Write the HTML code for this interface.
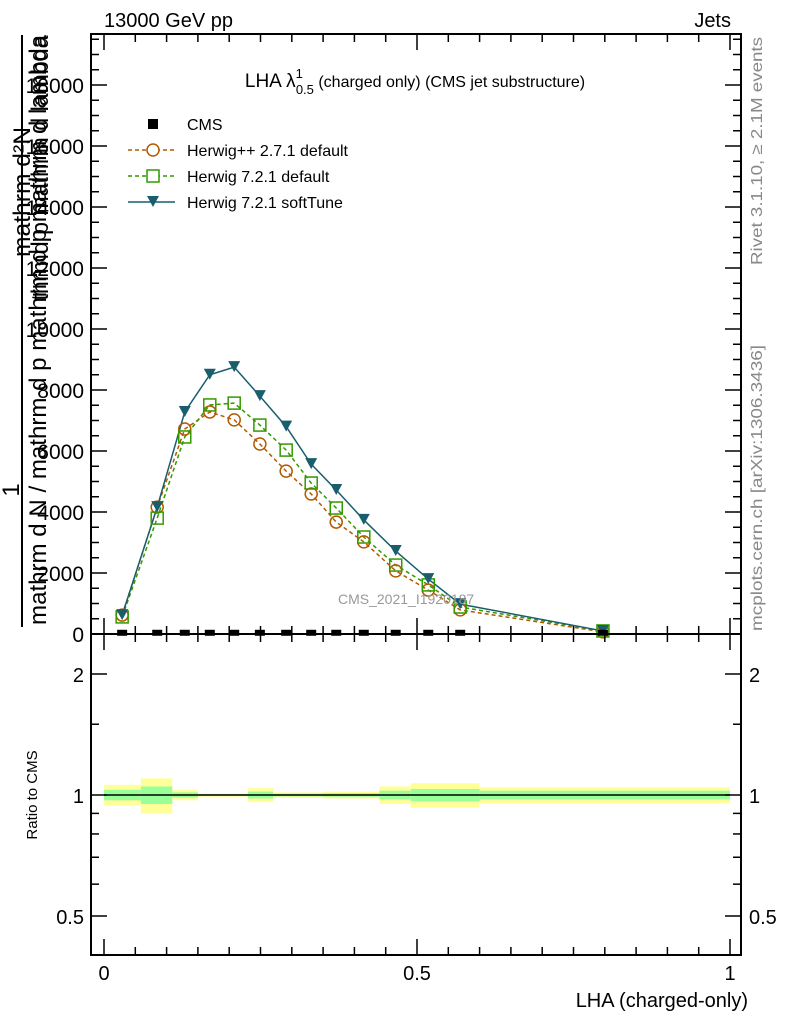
<!DOCTYPE html>
<html><head><meta charset="utf-8"><style>
body{margin:0;background:#fff}
svg{display:block;font-family:"Liberation Sans",sans-serif}
</style></head><body>
<svg id="c" width="786" height="1024" viewBox="0 0 786 1024" xmlns="http://www.w3.org/2000/svg">
<text x="104" y="27" font-size="20">13000 GeV pp</text>
<text x="731" y="27" font-size="20" text-anchor="end">Jets</text>
<text transform="translate(762,151) rotate(-90)" font-size="16" fill="#888" text-anchor="middle" textLength="228" lengthAdjust="spacingAndGlyphs">Rivet 3.1.10, ≥ 2.1M events</text>
<text transform="translate(762,488) rotate(-90)" font-size="16" fill="#888" text-anchor="middle" textLength="286" lengthAdjust="spacingAndGlyphs">mcplots.cern.ch [arXiv:1306.3436]</text>
<text transform="translate(30,192) rotate(-90)" font-size="24" text-anchor="middle" textLength="130" lengthAdjust="spacingAndGlyphs">mathrm d²N</text>
<line x1="22" y1="35" x2="22" y2="627" stroke="#000" stroke-width="2"/>
<text transform="translate(19,490) rotate(-90)" font-size="24" text-anchor="middle">1</text>
<text transform="translate(46,330) rotate(-90)" font-size="24" text-anchor="middle" textLength="590" lengthAdjust="spacingAndGlyphs">mathrm d N / mathrm d p  mathrm d p  mathrm d lambda</text>
<text transform="translate(48,168) rotate(-90)" font-size="24" text-anchor="middle" textLength="265" lengthAdjust="spacingAndGlyphs">thrmd p  mathrm d lambda</text>
<text x="415" y="87" font-size="19" text-anchor="middle">LHA λ<tspan font-size="13" dy="-9">1</tspan><tspan font-size="13" dx="-7" dy="16">0.5</tspan><tspan font-size="16" dy="-7"> (charged only) (CMS jet substructure)</tspan></text>
<g id="legend"></g>
<g id="main"></g>
<g id="ratio"></g>
<text x="338" y="604" font-size="14" fill="#999">CMS_2021_I1920187</text>
<text x="748" y="1007" font-size="20" text-anchor="end">LHA (charged-only)</text>
<text transform="translate(37,795) rotate(-90)" font-size="15" text-anchor="middle">Ratio to CMS</text>
</svg>
<script>
const xs=[0.029,0.085,0.129,0.169,0.208,0.249,0.291,0.331,0.371,0.415,0.466,0.518,0.569,0.797];
const cms=[40,40,40,40,40,40,40,40,40,40,40,40,40,40];
const hpp=[620,4160,6720,7280,7020,6230,5340,4590,3670,3020,2070,1440,790,70];
const h7def=[560,3800,6460,7510,7570,6850,6030,4950,4130,3180,2260,1610,885,100];
const h7soft=[620,4160,7280,8500,8750,7800,6800,5570,4720,3740,2720,1800,980,100];
const yTicks=[0,2000,4000,6000,8000,10000,12000,14000,16000,18000];
const binEdges=[0,0.059,0.109,0.15,0.23,0.27,0.35,0.44,0.49,0.6,1.0];
const bandYellow=[0.06,0.10,0.03,0.01,0.04,0.015,0.02,0.05,0.07,0.045];
const bandGreen=[0.03,0.05,0.015,0.005,0.02,0.008,0.01,0.025,0.035,0.025];
const rTicks=[0.5,1,2];
const xTickLabels=[0,0.5,1];

const NS="http://www.w3.org/2000/svg";
const L=91,R=741,T=34,MB=634,RB=955;
const X=v=>104+626*v;
const Y=v=>634-v*61/2000;
const RY=r=>795-121*Math.log2(r);
function mk(tag,attrs,parent){const e=document.createElementNS(NS,tag);for(const k in attrs)e.setAttribute(k,attrs[k]);parent.appendChild(e);return e;}
const main=document.getElementById('main'),ratio=document.getElementById('ratio'),leg=document.getElementById('legend');

for(let i=0;i<bandYellow.length;i++){
  const x1=X(binEdges[i]),x2=X(binEdges[i+1]);
  const y=mk('rect',{x:x1,y:RY(1+bandYellow[i]),width:x2-x1,height:RY(1-bandYellow[i])-RY(1+bandYellow[i]),fill:'#ffff99'},ratio);
  
  
  const g=mk('rect',{x:x1,y:RY(1+bandGreen[i]),width:x2-x1,height:RY(1-bandGreen[i])-RY(1+bandGreen[i]),fill:'#99ff99'},ratio);
  
  
}
const rl=mk('line',{x1:X(0),x2:X(1),y1:RY(1),y2:RY(1),stroke:'#000','stroke-width':1.5},ratio);



const f1=mk('rect',{x:L,y:T,width:R-L,height:MB-T,fill:'none',stroke:'#000','stroke-width':2},main);


const f2=mk('rect',{x:L,y:MB,width:R-L,height:RB-MB,fill:'none',stroke:'#000','stroke-width':2},ratio);



for(let v=0;v<=19500;v+=500){
  const major=v%2000===0, len=major?16:8, y=Y(v);
  if(y<T)continue;
  const a=mk('line',{x1:L,x2:L+len,y1:y,y2:y,stroke:'#000','stroke-width':1.5},main);
  
  
  const b=mk('line',{x1:R-len,x2:R,y1:y,y2:y,stroke:'#000','stroke-width':1.5},main);
  
  
}
yTicks.forEach(v=>{
  const t=mk('text',{x:84,y:Y(v)+8,'font-size':21,'text-anchor':'end'},main);
  t.textContent=v;
  
  
});
for(let i=0;i<=20;i++){
  const v=i*0.05,major=i%10===0,len=major?16:8;
  [[MB,-1,main],[T,1,main],[RB,-1,ratio],[MB,1,ratio]].forEach(([yb,d,p])=>{
    const l=mk('line',{x1:X(v),x2:X(v),y1:yb,y2:yb+d*len,stroke:'#000','stroke-width':1.5},p);
    
    
  });
}
xTickLabels.forEach(v=>{
  const t=mk('text',{x:X(v),y:980,'font-size':20,'text-anchor':'middle'},ratio);
  t.textContent=v;
  
  
});
[0.4,0.5,0.6,0.7,0.8,0.9,1,1.5,2].forEach(r=>{
  const major=rTicks.includes(r),len=major?16:8;
  const a=mk('line',{x1:L,x2:L+len,y1:RY(r),y2:RY(r),stroke:'#000','stroke-width':1.5},ratio);
  
  
  const b=mk('line',{x1:R-len,x2:R,y1:RY(r),y2:RY(r),stroke:'#000','stroke-width':1.5},ratio);
  
  
});
rTicks.forEach(r=>{
  [[84,'end'],[749,'start']].forEach(([x,a])=>{
    const t=mk('text',{x:x,y:RY(r)+8,'font-size':20,'text-anchor':a},ratio);
    t.textContent=r;
    
    
  });
});

function line(vals,color,dash,name){
  const pts=xs.map((x,i)=>X(x)+','+Y(vals[i])).join(' ');
  const p=mk('polyline',{points:pts,fill:'none',stroke:color,'stroke-width':1.5,'stroke-dasharray':dash},main);
  
  
}
line(hpp,'#b35900','4,3','herwigpp-default');
line(h7def,'#339900','4,3','herwig7-default');
line(h7soft,'#1a5e6e','','herwig7-softtune');
xs.forEach((x,i)=>{
  const c=mk('circle',{cx:X(x),cy:Y(hpp[i]),r:6,fill:'none',stroke:'#b35900','stroke-width':1.5},main);
  
  
  const s=mk('rect',{x:X(x)-6,y:Y(h7def[i])-6,width:12,height:12,fill:'none',stroke:'#339900','stroke-width':1.5},main);
  
  
  const cx=X(x),cy=Y(h7soft[i]);
  const t=mk('polygon',{points:`${cx-6},${cy-6} ${cx+6},${cy-6} ${cx},${cy+5}`,fill:'#1a5e6e'},main);
  
  
  const d=mk('rect',{x:X(x)-5,y:Y(cms[i])-3,width:10,height:6,fill:'#000'},main);
  
  
});

const entries=[['CMS','cms'],['Herwig++ 2.7.1 default','hpp'],['Herwig 7.2.1 default','h7d'],['Herwig 7.2.1 softTune','h7s']];
entries.forEach(([label,k],i)=>{
  const y=124+i*26,cx=153;
  if(k==='cms'){const m=mk('rect',{x:cx-5,y:y-5,width:10,height:10,fill:'#000'},leg);}
  if(k==='hpp'){mk('line',{x1:128,x2:175,y1:y,y2:y,stroke:'#b35900','stroke-width':1.5,'stroke-dasharray':'4,3'},leg);mk('circle',{cx:cx,cy:y,r:6,fill:'#fff',stroke:'#b35900','stroke-width':1.5},leg);}
  if(k==='h7d'){mk('line',{x1:128,x2:175,y1:y,y2:y,stroke:'#339900','stroke-width':1.5,'stroke-dasharray':'4,3'},leg);mk('rect',{x:cx-6,y:y-6,width:12,height:12,fill:'#fff',stroke:'#339900','stroke-width':1.5},leg);}
  if(k==='h7s'){mk('line',{x1:128,x2:175,y1:y,y2:y,stroke:'#1a5e6e','stroke-width':1.5},leg);mk('polygon',{points:`${cx-6},${y-6} ${cx+6},${y-6} ${cx},${y+5}`,fill:'#1a5e6e'},leg);}
  const t=mk('text',{x:187,y:y+6,'font-size':16},leg);
  t.textContent=label;
  
  
});
</script>
</body></html>
